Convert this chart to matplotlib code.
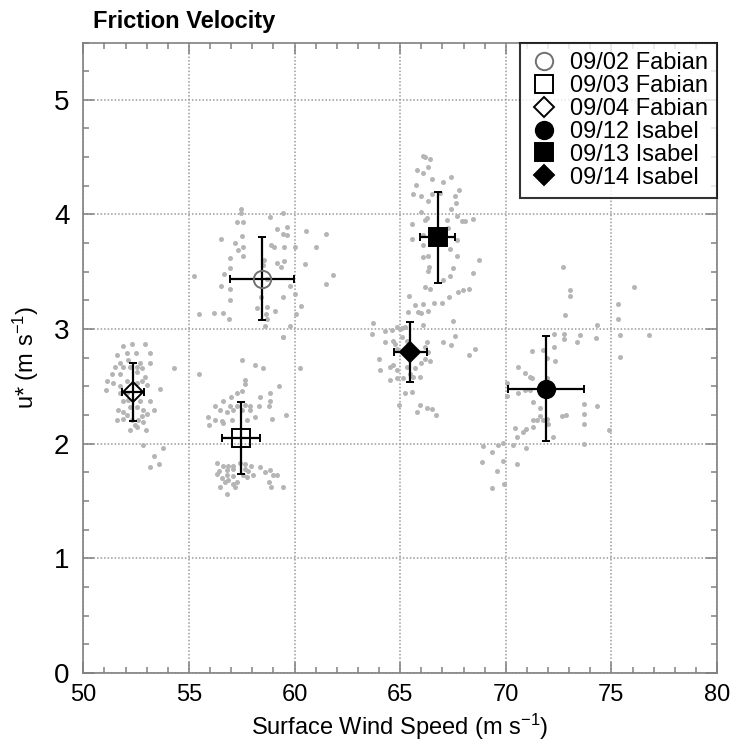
import matplotlib
matplotlib.use("Agg")
import matplotlib.pyplot as plt
from matplotlib.ticker import MultipleLocator

plt.rcParams["font.family"] = ["Liberation Sans", "DejaVu Sans"]
plt.rcParams["mathtext.fontset"] = "custom"
plt.rcParams["mathtext.rm"] = "Liberation Sans"
plt.rcParams["mathtext.default"] = "regular"

# mean values with spread (wind speed, u*)
labels = ["09/02 Fabian", "09/03 Fabian", "09/04 Fabian",
          "09/12 Isabel", "09/13 Isabel", "09/14 Isabel"]
mean_ws = [58.46, 57.48, 52.34, 71.92, 66.77, 65.48]
mean_us = [3.44, 2.05, 2.45, 2.48, 3.80, 2.80]
err_ws = [1.53, 0.90, 0.53, 1.80, 0.82, 0.79]
err_us = [0.365, 0.31, 0.25, 0.46, 0.40, 0.26]

# individual samples (gray dots)
ws_0902 = [57.46, 57.46, 57.29, 57.54, 58.83, 59.47, 59.43, 56.52, 57.49, 57.18,
           57.34, 57.54, 57.57, 56.94, 56.94, 56.66, 56.50, 56.94, 56.94, 56.91,
           56.63, 56.20, 55.49, 55.24, 59.18, 59.66, 59.47, 59.66, 58.87, 59.04,
           59.50, 60.02, 60.52, 61.48, 61.01, 60.49, 59.18, 59.35, 59.50, 58.49,
           58.71, 59.78, 61.47, 61.83, 59.43, 60.02, 58.41, 58.20, 58.71, 58.65,
           58.71, 58.60, 59.07, 60.07, 60.29, 59.78, 58.55]
us_0902 = [4.05, 4.01, 3.93, 3.93, 3.98, 4.01, 2.93, 3.79, 3.81, 3.75,
           3.69, 3.72, 3.64, 3.62, 3.53, 3.48, 3.38, 3.35, 3.25, 3.09,
           3.14, 3.14, 3.13, 3.46, 3.87, 3.89, 3.83, 3.82, 3.73, 3.72,
           3.72, 3.72, 3.86, 3.83, 3.72, 3.57, 3.58, 3.54, 3.59, 3.56,
           3.44, 3.38, 3.39, 3.47, 3.28, 3.31, 3.28, 3.18, 3.19, 3.13,
           3.09, 3.03, 3.16, 3.13, 3.20, 3.03, 3.60]

ws_0903 = [55.49, 57.50, 58.13, 58.52, 59.44, 60.26, 57.65, 57.65, 57.50, 57.26,
           56.98, 56.63, 56.94, 57.26, 57.65, 57.89, 58.36, 58.84, 59.28, 58.84,
           58.81, 58.33, 56.23, 56.47, 56.79, 57.10, 57.50, 57.89, 55.92, 56.23,
           56.55, 57.02, 57.73, 58.13, 58.92, 59.59, 55.97, 56.63,
           56.31, 56.63, 56.87, 57.10, 57.42, 57.65, 57.92, 58.36, 58.84, 56.44,
           56.79, 57.10, 57.65, 57.81, 56.31, 56.79, 57.10, 57.54, 58.02, 58.60,
           56.55, 56.87, 57.26, 57.73, 58.99, 56.71, 57.18, 56.47, 58.81, 59.18,
           56.79, 57.10, 58.87, 59.47]
us_0903 = [2.61, 2.73, 2.69, 2.66, 2.93, 2.66, 2.56, 2.52, 2.46, 2.44,
           2.41, 2.37, 2.33, 2.33, 2.34, 2.33, 2.41, 2.44, 2.50, 2.37,
           2.33, 2.33, 2.33, 2.29, 2.28, 2.29, 2.29, 2.29, 2.23, 2.21,
           2.20, 2.21, 2.21, 2.23, 2.22, 2.25, 2.16, 2.18,
           1.83, 1.81, 1.81, 1.81, 1.83, 1.82, 1.81, 1.80, 1.77, 1.76,
           1.77, 1.78, 1.78, 1.76, 1.74, 1.73, 1.72, 1.73, 1.73, 1.75,
           1.70, 1.68, 1.67, 1.71, 1.73, 1.67, 1.62, 1.62, 1.67, 1.73,
           1.56, 1.65, 1.62, 1.62]

ws_0904 = [51.90, 52.29, 52.92, 51.58, 52.05, 52.50, 53.16, 51.74, 52.13, 52.69,
           53.16, 51.50, 51.90, 52.21, 52.53, 52.76, 51.34, 51.74, 52.53, 52.92,
           51.11, 51.42, 52.05, 52.76, 52.53, 51.08, 51.74, 53.00, 51.74, 52.05,
           51.90, 52.13, 52.69, 53.16, 51.66, 51.90, 52.21, 52.53, 52.84, 53.35,
           52.05, 52.76, 53.00, 51.58, 51.90, 52.29, 52.61, 52.45, 52.84, 52.21,
           52.97, 52.53, 53.63, 54.31, 52.84, 53.76, 53.35, 53.16, 53.60]
us_0904 = [2.85, 2.87, 2.87, 2.77, 2.79, 2.79, 2.79, 2.70, 2.73, 2.70,
           2.70, 2.67, 2.67, 2.67, 2.67, 2.66, 2.61, 2.61, 2.63, 2.58,
           2.55, 2.53, 2.55, 2.55, 2.53, 2.47, 2.50, 2.51, 2.44, 2.44,
           2.37, 2.38, 2.37, 2.37, 2.29, 2.28, 2.32, 2.32, 2.29, 2.29,
           2.25, 2.24, 2.26, 2.21, 2.22, 2.21, 2.21, 2.16, 2.19, 2.12,
           2.12, 2.15, 2.48, 2.66, 1.99, 1.96, 1.89, 1.80, 1.82]

ws_0912 = [72.69, 73.06, 73.06, 72.81, 76.08, 75.32, 75.32, 74.34, 75.40, 76.77,
           75.40, 74.26, 73.35, 73.51, 72.77, 72.77, 72.27, 72.27, 71.74, 71.24,
           72.34, 71.93, 70.59, 70.90, 71.17, 71.24, 70.04, 70.07, 70.59, 70.90,
           71.17, 71.93, 71.27, 71.61, 71.64, 71.27, 71.46, 71.74, 71.96, 72.01,
           72.64, 72.84, 73.70, 73.70, 73.70, 74.33, 74.89, 70.43, 70.51, 70.82,
           70.98, 71.27, 69.88, 70.35, 70.98, 68.93, 69.33, 69.64, 68.88, 69.85,
           70.51, 69.59, 69.33, 69.93, 73.70, 72.24]
us_0912 = [3.54, 3.34, 3.29, 3.12, 3.37, 3.22, 3.09, 3.04, 2.95, 2.95,
           2.76, 2.92, 2.89, 2.95, 2.96, 2.91, 2.96, 2.84, 2.82, 2.81,
           2.72, 2.75, 2.67, 2.62, 2.58, 2.57, 2.53, 2.42, 2.44, 2.47,
           2.47, 2.57, 2.36, 2.31, 2.24, 2.21, 2.21, 2.21, 2.22, 2.17,
           2.24, 2.25, 2.35, 2.26, 2.17, 2.33, 2.12, 2.14, 2.06, 2.10,
           2.13, 2.15, 2.01, 1.99, 1.96, 1.98, 1.93, 1.99, 1.84, 1.85,
           1.82, 1.76, 1.61, 1.65, 2.00, 2.06]

ws_0913 = [66.17, 66.41, 66.09, 65.78, 66.33, 66.09, 66.49, 67.39, 67.04, 65.62,
           66.01, 66.49, 66.88, 67.59, 67.80, 65.75, 66.33, 67.64, 67.39, 66.01,
           66.25, 65.54, 66.17, 67.70, 67.20, 67.91, 68.06, 68.43, 65.54, 66.09,
           67.27, 66.09, 67.67, 66.33, 66.09, 67.67, 67.35, 66.38, 66.33, 67.51,
           67.35, 67.01, 66.17, 66.41, 68.43, 68.74, 67.75, 67.99, 68.27, 67.32,
           66.96, 66.60, 65.43, 65.70, 66.09, 65.86, 66.01, 66.33, 65.38, 66.09,
           67.51, 65.11, 67.01, 67.59, 67.40, 68.27, 68.54]
us_0913 = [4.50, 4.48, 4.51, 4.39, 4.41, 4.36, 4.31, 4.33, 4.28, 4.18,
           4.16, 4.18, 4.19, 4.16, 4.21, 4.26, 4.12, 4.10, 4.05, 4.02,
           3.97, 3.92, 3.95, 3.99, 3.95, 3.94, 3.94, 3.96, 3.79, 3.82,
           3.88, 3.73, 3.78, 3.64, 3.63, 3.64, 3.70, 3.54, 3.51, 3.53,
           3.46, 3.43, 3.37, 3.35, 3.49, 3.60, 3.32, 3.34, 3.35, 3.28,
           3.23, 3.23, 3.29, 3.21, 3.22, 3.15, 3.14, 3.16, 3.15, 3.04,
           3.07, 3.01, 2.89, 2.94, 2.86, 2.77, 2.83]

ws_0914 = [63.73, 63.69, 64.28, 64.59, 64.83, 64.99, 65.22, 64.28, 64.67, 64.75,
           65.07, 65.30, 66.25, 66.33, 66.17, 66.41, 64.01, 64.51, 64.67, 64.83,
           65.30, 65.70, 66.01, 64.04, 64.51, 64.83, 65.15, 65.62, 65.93, 65.22,
           65.54, 64.96, 65.93, 66.25, 66.49, 66.72, 65.81, 66.17, 64.86, 65.46]
us_0914 = [3.05, 2.96, 2.98, 2.99, 3.02, 3.00, 3.02, 2.89, 2.90, 2.87,
           2.93, 2.90, 2.89, 2.80, 2.74, 2.72, 2.74, 2.67, 2.69, 2.64,
           2.67, 2.66, 2.70, 2.64, 2.56, 2.57, 2.57, 2.58, 2.58, 2.44,
           2.45, 2.34, 2.34, 2.31, 2.30, 2.25, 2.28, 2.84, 2.83, 2.61]

dots_ws = [ws_0902, ws_0903, ws_0904, ws_0912, ws_0913, ws_0914]
dots_us = [us_0902, us_0903, us_0904, us_0912, us_0913, us_0914]

markers = ["o", "s", "D", "o", "s", "D"]
msizes = [12.5, 12.5, 10, 12.5, 13, 10]
faces = ["none", "none", "none", "black", "black", "black"]
edges = ["#707070", "black", "black", "black", "black", "black"]

fig = plt.figure(figsize=(7.36, 7.42), dpi=100)
ax = fig.add_axes([0.1132, 0.093, 0.861, 0.8497])

for xs, ys in zip(dots_ws, dots_us):
    ax.plot(xs, ys, "o", color="#b5b5b5", ms=3.6, mew=0, zorder=2)

for i in range(len(labels)):
    ax.errorbar(mean_ws[i], mean_us[i], xerr=err_ws[i], yerr=err_us[i],
                fmt=markers[i], ms=msizes[i], mfc=faces[i], mec=edges[i], mew=1.4,
                ecolor="black", elinewidth=1.6, capsize=3, capthick=1.6,
                label=labels[i], zorder=4)

ax.set_xlim(50, 80)
ax.set_ylim(0, 5.5)
ax.xaxis.set_major_locator(MultipleLocator(5))
ax.xaxis.set_minor_locator(MultipleLocator(1))
ax.yaxis.set_major_locator(MultipleLocator(1))
ax.yaxis.set_minor_locator(MultipleLocator(0.25))

ax.grid(True, which="major", color="#9a9a9a", ls=(0, (1, 1.3)), lw=1.1, zorder=1)
ax.set_axisbelow(True)

for s in ax.spines.values():
    s.set_color("#808080")
    s.set_linewidth(1.2)
ax.tick_params(which="both", direction="in", top=True, right=True, color="#808080", width=1.1)
ax.tick_params(which="major", length=8)
ax.tick_params(which="minor", length=4.5)
ax.tick_params(axis="x", labelsize=17, pad=8)
ax.tick_params(axis="y", labelsize=20, pad=10)

ax.set_xlabel("Surface Wind Speed (m s$^{-1}$)", fontsize=17, labelpad=4)
ax.set_ylabel("u* (m s$^{-1}$)", fontsize=17, labelpad=9)

fig.text(93 / 736, 1 - 28 / 742, "Friction Velocity", fontsize=17, fontweight="bold",
         ha="left", va="baseline")

handles, lbls = ax.get_legend_handles_labels()
handles = [h[0] for h in handles]
leg = ax.legend(handles, lbls, loc="upper right", fontsize=17, frameon=True, fancybox=False,
                borderaxespad=0, labelspacing=0.04, handletextpad=0.45, handlelength=1.25,
                borderpad=0.4, numpoints=1)
leg.get_frame().set_edgecolor("black")
leg.get_frame().set_linewidth(1.5)
leg.set_zorder(6)

fig.savefig("out.png", dpi=100)
